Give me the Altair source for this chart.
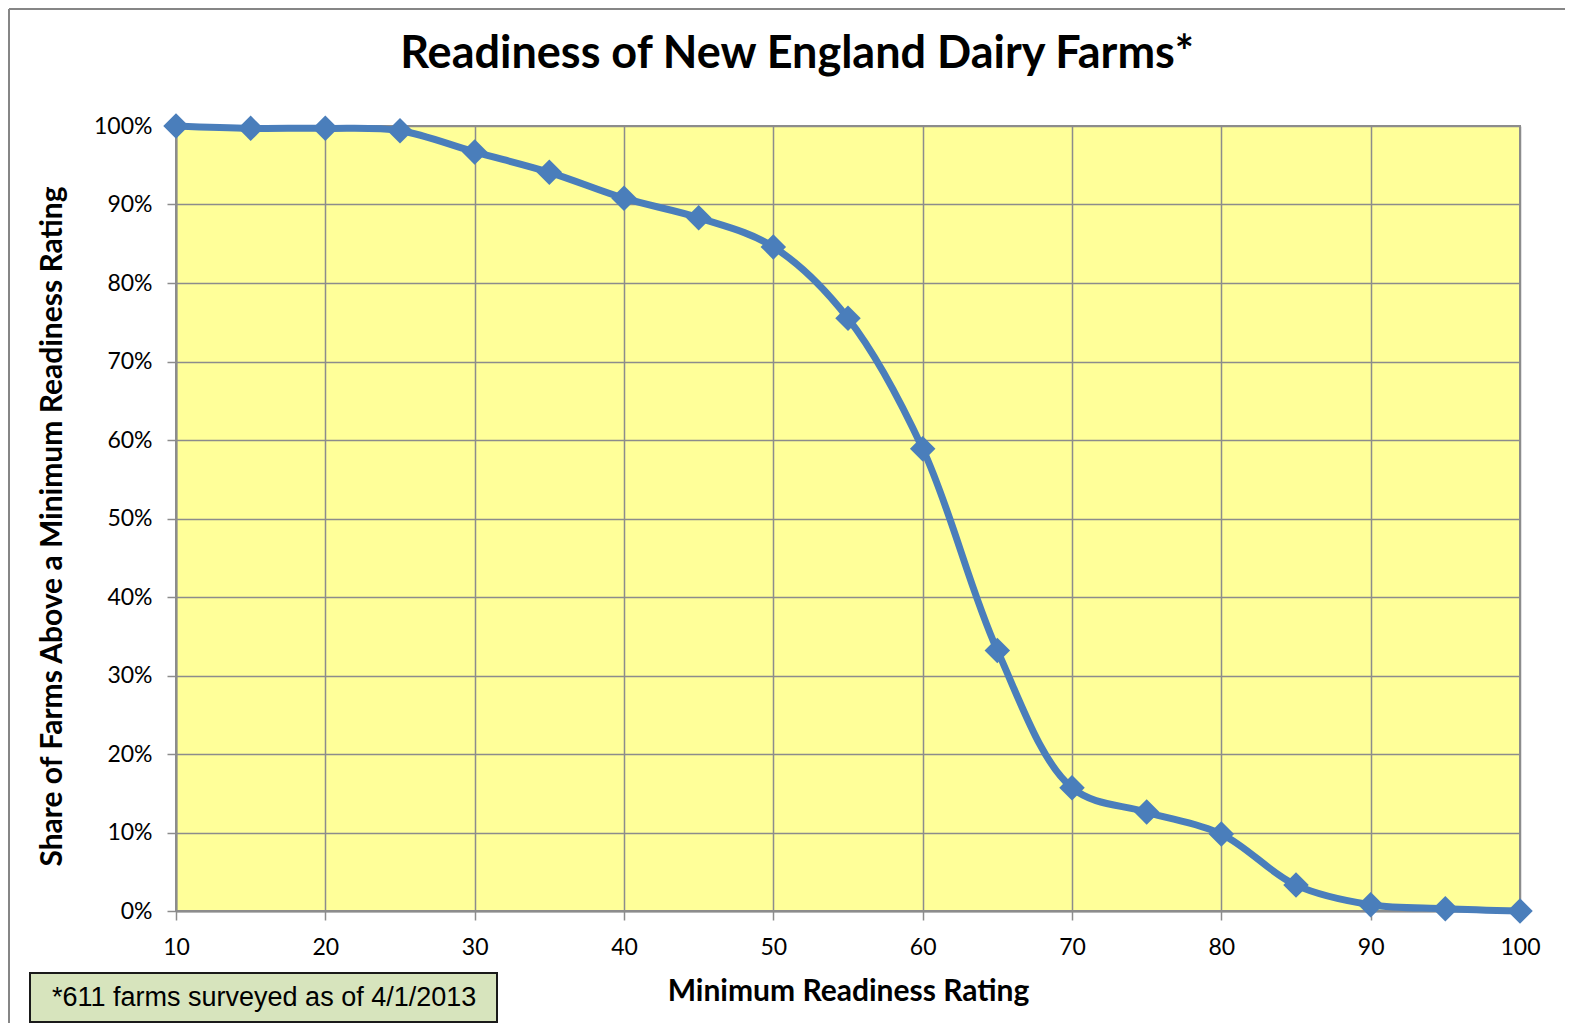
import altair as alt
import pandas as pd

ratings = [10, 15, 20, 25, 30, 35, 40, 45, 50, 55, 60, 65, 70, 75, 80, 85, 90, 95, 100]
shares = [1.000, 0.997, 0.997, 0.994, 0.967, 0.941, 0.908, 0.883, 0.846, 0.755,
          0.589, 0.332, 0.157, 0.126, 0.098, 0.033, 0.008, 0.003, 0.000]
x_ticks = [10, 20, 30, 40, 50, 60, 70, 80, 90, 100]
y_ticks = [0, 0.1, 0.2, 0.3, 0.4, 0.5, 0.6, 0.7, 0.8, 0.9, 1.0]
footnote = "*611 farms surveyed as of 4/1/2013"
title_text = "Readiness of New England Dairy Farms*"

df = pd.DataFrame({"rating": ratings, "share": shares})

FONT = "Lato"
BLUE = "#4a7ebb"
GRID = "#8c8c8c"

x = alt.X("rating:Q", scale=alt.Scale(domain=[10, 100], nice=False, zero=False),
          axis=alt.Axis(values=x_ticks, title="Minimum Readiness Rating", labelFontSize=23,
                        labelPadding=16, tickSize=9, titleFontSize=30, titleFontWeight="bold",
                        titlePadding=17, labelFlush=False))
y = alt.Y("share:Q", scale=alt.Scale(domain=[0, 1], nice=False),
          axis=alt.Axis(values=y_ticks, format=".0%", title="Share of Farms Above a Minimum Readiness Rating",
                        labelFontSize=23, labelPadding=15, tickSize=9, titleFontSize=30,
                        titleFontWeight="bold", titleX=-124, titleY=400, titleAngle=-90,
                        titleAlign="center", titleBaseline="middle"))

base = alt.Chart(df)
line = base.mark_line(interpolate="catmull-rom", strokeWidth=7, color=BLUE).encode(x=x, y=y)
pts = base.mark_point(shape="diamond", filled=True, size=650, color=BLUE, opacity=1).encode(x=x, y=y)

text_df = pd.DataFrame({"t": [footnote], "title": [title_text]})
box = alt.Chart(text_df).mark_rect(fill="#d7e4bd", stroke="#1a1a1a", strokeWidth=2).encode(
    x=alt.value(-146), x2=alt.value(321), y=alt.value(847), y2=alt.value(896))
box_text = alt.Chart(text_df).mark_text(font="Liberation Sans", fontSize=27, color="#000000",
                                        align="left", baseline="middle").encode(
    x=alt.value(-124), y=alt.value(872), text="t:N")
title_mark = alt.Chart(text_df).mark_text(font=FONT, fontSize=45, fontWeight="bold", color="#000000",
                                          align="center", baseline="alphabetic").encode(
    x=alt.value(621), y=alt.value(-58), text="title:N")

frame_left = alt.Chart(text_df).mark_rule(color="#868686", strokeWidth=2).encode(
    x=alt.value(-167), y=alt.value(-117), y2=alt.value(900))
frame_top = alt.Chart(text_df).mark_rule(color="#868686", strokeWidth=2).encode(
    x=alt.value(-167), x2=alt.value(1390), y=alt.value(-117))

chart = alt.layer(frame_left, frame_top, line, pts, box, box_text, title_mark).properties(
    width=1344, height=785,
    autosize=alt.AutoSizeParams(type="none"),
    padding={"left": 168, "top": 118, "right": 45, "bottom": 112},
).configure_view(fill="#ffff99", stroke=GRID, strokeWidth=2).configure_axis(
    labelFont=FONT, titleFont=FONT, labelColor="#000000", titleColor="#000000",
    gridColor=GRID, gridWidth=1.5, tickColor=GRID, tickWidth=1.5, domainColor=GRID, domainWidth=2,
    grid=True,
)

chart.save("out.html", embed_options={"renderer": "svg", "actions": False})
